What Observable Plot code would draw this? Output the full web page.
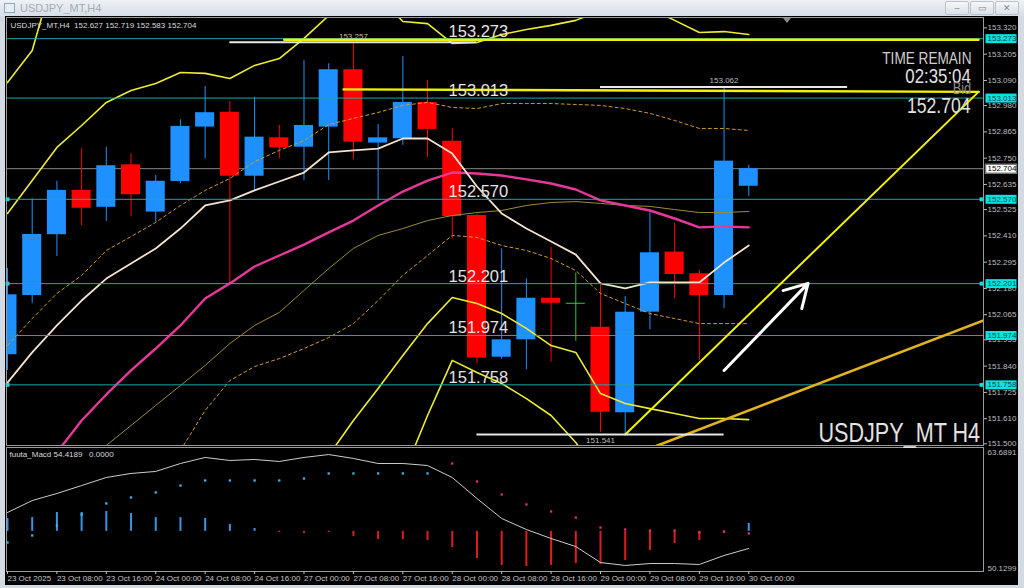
<!DOCTYPE html>
<html><head><meta charset="utf-8">
<script src="https://cdn.jsdelivr.net/npm/d3@7"></script>
<script src="https://cdn.jsdelivr.net/npm/@observablehq/plot@0.6"></script>
<style>
html,body{margin:0;padding:0;width:1024px;height:588px;overflow:hidden;background:#d3dae2;font-family:"Liberation Sans",Arial,sans-serif;}
#title{position:absolute;left:0;top:0;width:1024px;height:16px;background:linear-gradient(#eef2f6,#d7dee6);}
#title .t{position:absolute;left:20px;top:2px;font-size:11px;color:#a3acb6;}
#title .icon{position:absolute;left:4px;top:3px;width:9px;height:8px;border:1px solid #8ea4bb;background:#e6edf5;}
.btn{position:absolute;top:1px;width:22px;height:12px;border:1px solid #b9c2cc;border-radius:2px;background:linear-gradient(#f5f7f9,#dbe1e8);color:#7d8894;font-size:9px;text-align:center;line-height:12px;}
#main{position:absolute;left:5px;top:16px;width:1013px;height:431px;background:#000;}
#macd{position:absolute;left:5px;top:447px;width:1013px;height:138px;background:#000;}
.ov{position:absolute;white-space:nowrap;line-height:1;}
.narrow{transform:scaleX(0.8);transform-origin:right bottom;}
#shift{position:absolute;left:783px;top:18px;width:0;height:0;border-left:4px solid transparent;border-right:4px solid transparent;border-top:5px solid #8c8c8c;}
</style></head>
<body>
<div id="title"><div class="icon"></div><div class="t">USDJPY_MT,H4</div>
<div class="btn" style="left:945px">&#8211;</div><div class="btn" style="left:970px">&#9645;</div><div class="btn" style="left:995px">&#10005;</div></div>
<div id="main"></div>
<div id="macd"></div>
<div id="shift"></div>
<div class="ov narrow" style="right:53px;top:50px;font-size:17px;color:#cfcfcf;">TIME REMAIN</div>
<div class="ov narrow" style="right:53px;top:65px;font-size:21px;color:#e2e2e2;">02:35:04</div>
<div class="ov narrow" style="right:53px;top:81px;font-size:16px;color:#8e8e8e;">Bid</div>
<div class="ov narrow" style="right:53px;top:95px;font-size:22px;color:#e2e2e2;">152.704</div>
<div class="ov narrow" style="right:44px;top:420px;font-size:27px;color:#e2e2e2;">USDJPY_MT H4</div>
<script>
// ---------- candles (H4, 23 Oct 00:00 .. 30 Oct 00:00) ----------
const open  = [151.890,152.149,152.415,152.609,152.535,152.721,152.514,152.648,152.886,152.951,152.671,152.839,152.798,152.886,153.137,152.816,152.835,152.994,152.824,152.499,151.879,151.955,152.137,152.115,152.010,151.636,152.076,152.339,152.244,152.149,152.627];
const high  = [152.267,152.572,152.649,152.791,152.798,152.769,152.674,152.918,153.064,152.998,153.017,152.893,153.178,153.163,153.257,152.897,153.195,153.090,152.879,152.505,152.353,152.222,152.360,152.247,152.193,152.145,152.521,152.465,152.260,153.062,152.719];
const low   = [151.821,152.115,152.320,152.455,152.473,152.495,152.470,152.638,152.747,152.200,152.609,152.747,152.652,152.652,152.743,152.565,152.806,152.754,152.397,151.850,151.870,151.824,151.857,151.949,151.551,151.541,151.999,152.135,151.865,152.091,152.583];
const close = [152.152,152.416,152.609,152.531,152.717,152.590,152.649,152.889,152.949,152.671,152.842,152.795,152.893,153.137,152.820,152.839,152.994,152.876,152.495,151.875,151.955,152.137,152.115,152.115,151.638,152.076,152.336,152.241,152.149,152.737,152.704];

// ---------- indicators ----------
const maFast = [151.768,151.900,152.018,152.127,152.223,152.289,152.355,152.442,152.543,152.565,152.609,152.648,152.687,152.775,152.784,152.792,152.836,152.836,152.770,152.626,152.508,152.442,152.385,152.328,152.202,152.180,152.206,152.206,152.206,152.293,152.368];
const maSlow = [151.142,151.230,151.318,151.405,151.493,151.580,151.668,151.755,151.843,151.939,152.018,152.075,152.171,152.267,152.355,152.412,152.442,152.477,152.499,152.512,152.521,152.543,152.556,152.560,152.552,152.543,152.539,152.525,152.512,152.512,152.517];
const bbMid = [151.230,151.339,151.462,151.602,151.716,151.821,151.917,152.018,152.136,152.202,152.276,152.324,152.372,152.425,152.477,152.543,152.604,152.652,152.687,152.683,152.674,152.657,152.639,152.613,152.565,152.543,152.521,152.486,152.447,152.451,152.447];
const bbUp1 = [151.930,152.048,152.158,152.237,152.346,152.407,152.469,152.543,152.609,152.661,152.735,152.784,152.827,152.897,152.924,152.950,152.981,152.994,152.972,152.967,152.989,152.989,152.989,152.985,152.981,152.967,152.946,152.915,152.880,152.880,152.871];
const bbDn1 = [null,null,null,null,null,null,null,151.471,151.646,151.777,151.838,151.873,151.917,151.965,152.026,152.127,152.237,152.324,152.412,152.403,152.368,152.346,152.311,152.258,152.158,152.114,152.070,152.048,152.026,152.026,152.026];
const bbUp2 = [152.508,152.652,152.797,152.893,152.994,153.046,153.077,153.125,153.121,153.099,153.156,153.186,153.274,153.374,153.462,153.462,153.348,153.339,153.252,153.256,153.291,153.313,153.331,153.353,153.396,153.418,153.405,153.353,153.300,153.304,153.291];
const bbDn2 = [null,null,null,null,null,null,null,null,null,null,null,null,null,151.449,151.602,151.742,151.886,152.026,152.140,152.114,152.070,152.005,151.930,151.900,151.720,151.676,151.654,151.633,151.611,151.611,151.606];
const bbUp3 = [153.081,153.221,153.600,null,null,null,null,null,null,null,null,null,null,null,null,null,null,null,null,null,null,null,null,null,null,null,null,null,null,null,null];
const bbDn3 = [null,null,null,null,null,null,null,null,null,null,null,null,null,null,null,null,151.361,151.624,151.865,151.812,151.764,151.698,151.624,151.506,151.339,null,null,null,null,null,null];

// ---------- objects ----------
const levels = [153.273, 153.013, 152.570, 152.201, 151.974, 151.758];
const squareLevels = [152.570, 152.201, 151.758];
const bid = 152.704;
const priceTicks = [153.320,153.205,153.090,152.980,152.865,152.750,152.635,152.525,152.410,152.295,152.180,152.065,151.955,151.840,151.725,151.610,151.500];
const extremeIdx = [14, 29, 24];
const extremePrice = [153.257, 153.062, 151.541];
const extremeSide = ["top", "top", "bottom"];
const trendUpX = [25, 39.3],   trendUpY = [151.541, 153.040];
const trendLowX = [26, 39.5],  trendLowY = [151.480, 152.040];
const flat1X = [11.2, 39.3],   flat1Y = [153.268, 153.268];
const flat2X = [13.6, 39.3],   flat2Y = [153.051, 153.040];
const arrowX = [29.0, 32.4],   arrowY = [151.821, 152.202];

// ---------- MACD pane ----------
const macdLine = [56.58,57.89,58.66,59.53,60.41,60.85,61.07,61.94,62.60,62.27,62.38,62.16,62.60,62.92,62.49,61.94,61.94,61.72,60.41,58.11,55.93,54.72,53.74,52.86,51.11,50.79,51.00,51.00,50.90,51.88,52.65];
const macdDots = [53.30,54.07,55.16,56.36,57.57,58.22,58.77,59.53,60.08,60.08,60.08,60.08,60.30,60.85,60.85,60.85,60.85,60.85,61.94,59.97,58.55,57.46,56.69,56.03,54.94,54.72,54.61,54.61,54.39,54.50,54.29];
const macdHist = [55.93,56.03,56.58,56.58,56.69,56.47,56.03,56.03,55.93,55.27,54.83,54.39,54.29,54.39,53.96,53.63,53.63,53.52,52.75,51.55,50.79,50.68,50.79,51.00,50.90,51.33,52.43,53.19,53.52,54.29,55.38];
const histBase = 54.52;
const macdRange = [50.1299, 63.6891];

const tickIdx = [0,2,4,6,8,10,12,14,16,18,20,22,24,26,28,30];
const timeLabels = ["23 Oct 2025","23 Oct 08:00","23 Oct 16:00","24 Oct 00:00","24 Oct 08:00","24 Oct 16:00","27 Oct 00:00","27 Oct 08:00","27 Oct 16:00","28 Oct 00:00","28 Oct 08:00","28 Oct 16:00","29 Oct 00:00","29 Oct 08:00","29 Oct 16:00","30 Oct 00:00"];

// ---------- build ----------
const BLUE = "#1e90ff", RED = "#ff0000", GREEN = "#2ecc2e", TEAL = "#22a6a6", CYAN = "#00e4e4", YEL = "#ecec30";
const FONT = "Liberation Sans, Arial, sans-serif";
const idx = d3.range(open.length);
const candles = idx.map(i => ({i, o: open[i], h: high[i], l: low[i], c: close[i],
  col: close[i] > open[i] ? BLUE : close[i] < open[i] ? RED : GREEN}));
const ser = arr => idx.map(i => ({i, v: arr[i]})).filter(d => d.v != null);
const pts = (xs, ys) => xs.map((x, k) => ({i: x, v: ys[k]}));
const extremes = extremeIdx.map((i, k) => ({i, p: extremePrice[k], side: extremeSide[k]}));
const HW = 0.385;
const boxSym = {draw(ctx) { ctx.moveTo(-15.5,-4.5); ctx.lineTo(15.5,-4.5); ctx.lineTo(15.5,4.5); ctx.lineTo(-15.5,4.5); ctx.closePath(); }};
const xDom = [-0.04, 39.5];

const main = Plot.plot({
  width: 1013, height: 431,
  marginLeft: 1, marginRight: 35, marginTop: 1, marginBottom: 2,
  style: {background: "#000", color: "#c4c4c4", fontFamily: FONT, overflow: "visible"},
  x: {domain: xDom, axis: null},
  y: {domain: [151.4926, 153.3656], axis: null},
  color: {type: "identity"},
  marks: [
    Plot.ruleY([bid], {stroke: "#858585"}),
    // candles
    Plot.ruleX(candles, {x: "i", y1: "l", y2: "h", stroke: "col", clip: true}),
    Plot.rect(candles.filter(d => d.o !== d.c), {x1: d => d.i - HW, x2: d => d.i + HW, y1: "o", y2: "c", fill: "col", clip: true}),
    Plot.ruleY(candles.filter(d => d.o === d.c), {y: "c", x1: d => d.i - HW, x2: d => d.i + HW, stroke: "col"}),
    // indicators
    Plot.line(ser(maSlow), {x: "i", y: "v", stroke: "#9c8a3a", strokeWidth: 1, clip: true}),
    Plot.line(ser(bbUp1), {x: "i", y: "v", stroke: "#d39a2e", strokeWidth: 1, strokeDasharray: "3,3", clip: true}),
    Plot.line(ser(bbDn1), {x: "i", y: "v", stroke: "#d39a2e", strokeWidth: 1, strokeDasharray: "3,3", clip: true}),
    Plot.line(ser(bbUp2), {x: "i", y: "v", stroke: YEL, strokeWidth: 1.6, clip: true}),
    Plot.line(ser(bbDn2), {x: "i", y: "v", stroke: YEL, strokeWidth: 1.6, clip: true}),
    Plot.line(ser(bbUp3), {x: "i", y: "v", stroke: YEL, strokeWidth: 1.6, clip: true}),
    Plot.line(ser(bbDn3), {x: "i", y: "v", stroke: YEL, strokeWidth: 1.6, clip: true}),
    Plot.line(ser(bbMid), {x: "i", y: "v", stroke: "#e8379a", strokeWidth: 2.4, clip: true}),
    Plot.line(ser(maFast), {x: "i", y: "v", stroke: "#f3e3cf", strokeWidth: 1.8, clip: true}),
    // horizontal levels
    Plot.ruleY(levels, {stroke: TEAL, strokeWidth: 1}),
    Plot.dot(squareLevels, {y: d => d, frameAnchor: "left", dx: 1, symbol: "square", r: 2.2, fill: CYAN}),
    Plot.dot(squareLevels, {y: d => d, frameAnchor: "right", dx: -2, symbol: "square", r: 2.2, fill: CYAN}),
    // trend lines
    Plot.line(pts(flat1X, flat1Y), {x: "i", y: "v", stroke: "#f2f200", strokeWidth: 2.4, clip: true}),
    Plot.line(pts(flat2X, flat2Y), {x: "i", y: "v", stroke: "#f2f200", strokeWidth: 2.4, clip: true}),
    Plot.line(pts(trendUpX, trendUpY), {x: "i", y: "v", stroke: "#f2f200", strokeWidth: 2, clip: true}),
    Plot.line(pts(trendLowX, trendLowY), {x: "i", y: "v", stroke: "#e2b31e", strokeWidth: 2.6, clip: true}),
    // extreme markers
    Plot.ruleY(extremes, {y: "p", x1: d => d.i - 5, x2: d => d.i + 5, stroke: "#e8e8e8", strokeWidth: 2}),
    Plot.text(extremes.filter(d => d.side === "top"), {x: "i", y: "p", text: d => d.p.toFixed(3), dy: -6, fontSize: 8, fill: "#bdbdbd"}),
    Plot.text(extremes.filter(d => d.side === "bottom"), {x: "i", y: "p", text: d => d.p.toFixed(3), dy: 6, fontSize: 8, fill: "#bdbdbd"}),
    // level labels
    Plot.text(levels, {x: () => 17.85, y: d => d, text: d => d.toFixed(3), textAnchor: "start", lineAnchor: "bottom", dy: -2, fontSize: 16.5, fill: "#e4e4e4"}),
    // arrow
    Plot.arrow([0], {x1: () => arrowX[0], y1: () => arrowY[0], x2: () => arrowX[1], y2: () => arrowY[1], stroke: "#ffffff", strokeWidth: 3, headLength: 13}),
    // header
    Plot.text(["USDJPY_MT,H4\u00a0\u00a0152.627 152.719 152.583 152.704"], {frameAnchor: "top-left", dx: 4, dy: 5, textAnchor: "start", lineAnchor: "top", fontSize: 8, fill: "#dcdcdc"}),
    // price axis
    Plot.frame({stroke: "#9a9a9a"}),
    Plot.axisY(priceTicks, {anchor: "right", tickSize: 3, tickPadding: 1, tickFormat: d => d.toFixed(3), fontSize: 8, color: "#bdbdbd", label: null}),
    Plot.dot(levels, {y: d => d, frameAnchor: "right", dx: 17.5, symbol: boxSym, fill: CYAN}),
    Plot.text(levels, {y: d => d, frameAnchor: "right", dx: 4, textAnchor: "start", text: d => d.toFixed(3), fontSize: 8, fill: "#0b4646"}),
    Plot.dot([bid], {y: d => d, frameAnchor: "right", dx: 17.5, symbol: boxSym, fill: "#ffffff", stroke: "#777"}),
    Plot.text([bid], {y: d => d, frameAnchor: "right", dx: 4, textAnchor: "start", text: d => d.toFixed(3), fontSize: 8, fill: "#000"})
  ]
});
document.getElementById("main").appendChild(main);

const hist = idx.map(i => ({i, v: macdHist[i], col: macdHist[i] >= histBase ? "#3a95e4" : "#e01c1c"}));
const dots = idx.map(i => ({i, v: macdDots[i], col: macdLine[i] > macdDots[i] ? "#3fb4e6" : "#e0306a"}));

const macd = Plot.plot({
  width: 1013, height: 138,
  marginLeft: 1, marginRight: 35, marginTop: 0, marginBottom: 14,
  style: {background: "#000", color: "#c4c4c4", fontFamily: FONT, overflow: "visible"},
  x: {domain: xDom, axis: null},
  y: {domain: macdRange, axis: null},
  color: {type: "identity"},
  marks: [
    Plot.ruleX(hist, {x: "i", y1: () => histBase, y2: "v", stroke: "col", strokeWidth: 2}),
    Plot.dot(dots, {x: "i", y: "v", symbol: "square", r: 1.3, fill: "col"}),
    Plot.line(ser(macdLine), {x: "i", y: "v", stroke: "#cdcdcd", strokeWidth: 1}),
    Plot.frame({stroke: "#9a9a9a"}),
    Plot.text(["fuuta_Macd 54.4189\u00a0\u00a0\u00a00.0000"], {frameAnchor: "top-left", dx: 3, dy: 4, textAnchor: "start", lineAnchor: "top", fontSize: 8, fill: "#dcdcdc"}),
    Plot.text([macdRange[1].toFixed(4)], {frameAnchor: "top-right", dx: 4, dy: 2, textAnchor: "start", lineAnchor: "top", fontSize: 8, fill: "#bdbdbd"}),
    Plot.text([macdRange[0].toFixed(4)], {frameAnchor: "bottom-right", dx: 4, dy: -1, textAnchor: "start", lineAnchor: "bottom", fontSize: 8, fill: "#bdbdbd"}),
    Plot.axisX(tickIdx, {anchor: "bottom", tickSize: 3, tickPadding: 1, tickFormat: d => timeLabels[tickIdx.indexOf(d)], textAnchor: "start", dx: 0, fontSize: 8, color: "#c4c4c4", label: null})
  ]
});
document.getElementById("macd").appendChild(macd);
</script>
</body></html>
